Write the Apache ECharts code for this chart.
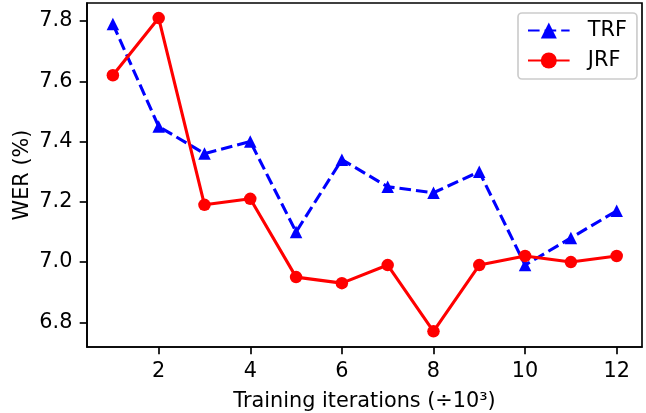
<!DOCTYPE html>
<html><head><meta charset="utf-8">
<script src="https://cdn.jsdelivr.net/npm/echarts@6/dist/echarts.min.js"></script>
<style>html,body{margin:0;padding:0;background:#fff}#c{width:646px;height:413px}</style>
</head><body><div id="c"></div>
<script>
const iterations = [1, 2, 3, 4, 5, 6, 7, 8, 9, 10, 11, 12];
const trf = [7.79, 7.45, 7.36, 7.40, 7.10, 7.34, 7.25, 7.23, 7.30, 6.99, 7.08, 7.17];
const jrf = [7.62, 7.81, 7.19, 7.21, 6.95, 6.93, 6.99, 6.77, 6.99, 7.02, 7.00, 7.02];
const xTicks = [2, 4, 6, 8, 10, 12];
const yTicks = [6.8, 7.0, 7.2, 7.4, 7.6, 7.8];
const seriesNames = ['TRF', 'JRF'];
const xLabel = 'Training iterations (÷10³)';
const yLabel = 'WER (%)';

const FONT = 'DejaVu Sans';
const FS = 20.8;
const LW = 3.1;
const SPINE = 1.67;

const chart = echarts.init(document.getElementById('c'), null, {renderer: 'canvas'});
chart.setOption({
  animation: false,
  backgroundColor: '#ffffff',
  grid: {
    left: 87, right: 4, top: 3, bottom: 66,
    containLabel: false, outerBoundsMode: 'none',
    show: true, borderColor: '#000', borderWidth: SPINE, backgroundColor: 'transparent'
  },
  xAxis: {
    type: 'value', min: 0.435, max: 12.553,
    name: xLabel, nameLocation: 'middle', nameGap: 44, nameMoveOverlap: false,
    nameTextStyle: {fontFamily: FONT, fontSize: FS, color: '#000'},
    axisLine: {show: true, onZero: false, lineStyle: {color: '#000', width: SPINE}},
    axisTick: {show: true, inside: false, length: 7.3, lineStyle: {color: '#000', width: SPINE}, customValues: xTicks},
    axisLabel: {show: true, margin: 14.6, fontFamily: FONT, fontSize: FS, color: '#000', customValues: xTicks,
      formatter: v => String(v)},
    splitLine: {show: false}
  },
  yAxis: {
    type: 'value', min: 6.718, max: 7.86,
    name: yLabel, nameLocation: 'middle', nameGap: 54, nameMoveOverlap: false,
    nameTextStyle: {fontFamily: FONT, fontSize: FS, color: '#000'},
    axisLine: {show: true, onZero: false, lineStyle: {color: '#000', width: SPINE}},
    axisTick: {show: true, inside: false, length: 7.3, lineStyle: {color: '#000', width: SPINE}, customValues: yTicks},
    axisLabel: {show: true, margin: 14.6, fontFamily: FONT, fontSize: FS, color: '#000', customValues: yTicks,
      formatter: v => Number(v).toFixed(1)},
    splitLine: {show: false}
  },
  legend: {
    orient: 'vertical', left: 518, top: 13,
    padding: [7, 10, 8, 9],
    itemGap: 9,
    itemWidth: 41.6, itemHeight: 20,
    backgroundColor: 'rgba(255,255,255,0.8)',
    borderColor: '#cccccc', borderWidth: 1.67, borderRadius: 4,
    textStyle: {fontFamily: FONT, fontSize: FS, color: '#000', lineHeight: 21},
    formatter: name => '  ' + name,
    data: seriesNames
  },
  series: [
    {
      name: seriesNames[0], type: 'line',
      data: iterations.map((x, i) => [x, trf[i]]),
      symbol: 'triangle', symbolSize: 12.5,
      lineStyle: {color: '#0000ff', width: LW, type: [11.6, 5], cap: 'butt'},
      itemStyle: {color: '#0000ff'},
      z: 2
    },
    {
      name: seriesNames[1], type: 'line',
      data: iterations.map((x, i) => [x, jrf[i]]),
      symbol: 'circle', symbolSize: 12.5,
      lineStyle: {color: '#ff0000', width: LW, type: 'solid'},
      itemStyle: {color: '#ff0000'},
      z: 3
    }
  ]
});
</script>
</body></html>
